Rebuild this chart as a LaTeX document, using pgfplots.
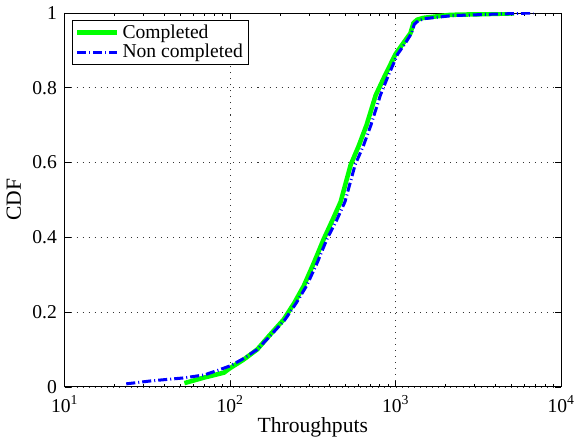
\documentclass[border=0pt]{standalone}
\usepackage{fontspec}
\setmainfont{Liberation Serif}
\usepackage{pgfplots}
\pgfplotsset{compat=1.18}
\definecolor{mgreen}{RGB}{0,255,0}
\definecolor{mblue}{RGB}{0,0,255}

\begin{document}
\fontsize{19.5}{22}\selectfont
\begin{tikzpicture}
\begin{axis}[
    scale only axis,
    width=494pt,
    height=372pt,
    xmode=log,
    xmin=10, xmax=10000,
    ymin=0, ymax=1,
    xtick={10,100,1000,10000},
    xticklabels={10\textsuperscript{1},10\textsuperscript{2},10\textsuperscript{3},10\textsuperscript{4}},
    ytick={0,0.2,0.4,0.6,0.8,1},
    yticklabels={0,0.2,0.4,0.6,0.8,1},
    /pgf/number format/assume math mode=true,
    xticklabel style={yshift=-2pt},
    yticklabel style={xshift=-1pt},
    xlabel={Throughputs},
    ylabel={CDF},
    label style={font=\fontsize{21.5}{24}\selectfont},
    xlabel style={yshift=8pt},
    ylabel style={yshift=-2pt},
    grid=major,
    major grid style={black!80, dash pattern=on 1pt off 5pt, line width=0.6pt},
    tick align=inside,
    major tick length=6pt,
    minor tick length=3pt,
    axis line style={line width=0.8pt},
    every tick/.style={black, line width=0.6pt},
    legend style={at={(0.016,0.981)}, anchor=north west, draw=black, line width=0.6pt,
        row sep=-1pt, inner sep=2pt, nodes={inner xsep=3pt}},
    legend cell align=left,
    legend image code/.code={\draw[#1] (0pt,0pt) -- (40pt,0pt);},
]
\addplot[mgreen, line width=4.5pt, line join=round] coordinates {
    (53,0.01) (70,0.025) (92,0.038) (100,0.05) (120,0.072) (146,0.10)
    (175,0.14) (211,0.18) (245,0.225) (279,0.27) (320,0.33) (368,0.395)
    (415,0.445) (466,0.495) (536,0.594) (600,0.645) (668,0.70) (759,0.78)
    (847,0.825) (1000,0.89) (1117,0.92) (1231,0.946) (1283,0.973)
    (1350,0.982) (1475,0.987) (2137,0.995) (3500,0.997) (5200,0.999)
};
\addlegendentry{Completed}
\addplot[mblue, line width=3pt, dash pattern=on 9pt off 3pt on 1pt off 3pt] coordinates {
    (23.6,0.008) (33.4,0.016) (52.9,0.024) (70,0.032) (83,0.043) (100,0.056)
    (120,0.075) (146,0.10) (178,0.14) (215,0.18) (252,0.225) (290,0.27)
    (335,0.33) (385,0.395) (440,0.445) (495,0.495) (570,0.594) (640,0.645)
    (710,0.70) (810,0.78) (890,0.825) (1030,0.89) (1150,0.92) (1250,0.946)
    (1300,0.97) (1370,0.979) (1500,0.985) (2200,0.993) (4000,0.997) (6800,1.0)
};
\addlegendentry{Non completed}
\end{axis}
\end{tikzpicture}
\end{document}
